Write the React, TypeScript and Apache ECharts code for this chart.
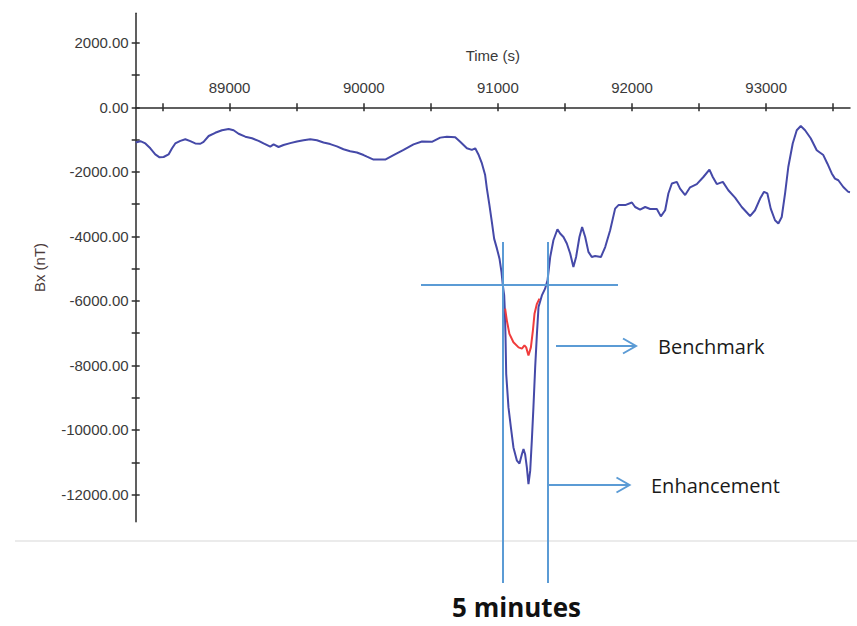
import React, { useEffect, useRef } from "react";
import * as echarts from "echarts";

// Time (s) of the Bx trace (enhancement)
const times = [88300,88335,88372,88409,88446,88478,88508,88545,88571,88595,88633,88670,88707,88744,88782,88806,88844,88893,88943,88993,89030,89067,89117,89167,89216,89253,89303,89328,89365,89402,89452,89502,89551,89601,89651,89700,89750,89800,89849,89899,89949,89999,90024,90073,90160,90222,90297,90371,90434,90508,90570,90620,90682,90719,90769,90806,90831,90855,90881,90905,90918,90937,90955,90972,90993,91012,91027,91037,91047,91052,91057,91062,91079,91097,91116,91142,91161,91179,91191,91203,91216,91228,91241,91253,91265,91278,91291,91303,91328,91352,91370,91390,91414,91444,91464,91489,91514,91539,91563,91583,91608,91628,91651,91675,91700,91725,91768,91800,91837,91874,91899,91949,91999,92023,92060,92098,92135,92185,92215,92247,92271,92297,92334,92358,92396,92433,92483,92532,92577,92602,92632,92677,92718,92768,92818,92880,92917,92955,92984,93009,93034,93066,93091,93116,93141,93165,93198,93228,93258,93290,93332,93377,93426,93456,93489,93513,93538,93575,93612,93625];
// Bx (nT)
const bx = [-1090,-1050,-1120,-1270,-1460,-1550,-1540,-1460,-1270,-1120,-1040,-990,-1050,-1120,-1130,-1070,-890,-790,-710,-670,-710,-820,-910,-960,-1040,-1120,-1220,-1150,-1230,-1170,-1110,-1060,-1020,-990,-1020,-1090,-1140,-1210,-1300,-1360,-1400,-1480,-1530,-1620,-1620,-1480,-1320,-1150,-1060,-1070,-940,-910,-930,-1070,-1270,-1320,-1270,-1460,-1740,-2100,-2520,-3030,-3550,-4070,-4380,-4690,-5110,-5520,-5830,-6300,-7120,-8260,-9300,-9920,-10540,-10950,-11040,-10750,-10590,-10750,-11160,-11680,-11260,-10330,-9300,-8060,-7020,-6190,-5830,-5620,-5360,-4640,-4120,-3780,-3910,-4020,-4220,-4530,-4950,-4640,-4020,-3710,-4020,-4480,-4640,-4610,-4640,-4330,-3810,-3140,-3030,-3030,-2950,-3090,-3170,-3090,-3150,-3150,-3380,-3190,-2670,-2360,-2310,-2520,-2720,-2480,-2380,-2160,-1930,-2160,-2380,-2310,-2570,-2800,-3090,-3370,-3190,-2830,-2620,-2670,-3140,-3500,-3600,-3400,-2670,-1850,-1120,-710,-580,-710,-960,-1330,-1480,-1740,-2050,-2210,-2260,-2470,-2620,-2630];

// Benchmark segment
const benchTimes = [91054,91067,91086,91116,91154,91179,91198,91211,91228,91246,91261,91273,91291,91310];
const benchBx = [-6240,-6610,-7020,-7280,-7440,-7480,-7380,-7440,-7690,-7440,-6920,-6400,-6090,-5930];

// Axis ticks / labels
const xTickValues = [88500,89000,89500,90000,90500,91000,91500,92000,92500,93000,93500];
const xLabelValues = [89000,90000,91000,92000,93000];
const yTickValues = [-12000,-11000,-10000,-9000,-8000,-7000,-6000,-5000,-4000,-3000,-2000,-1000,0,1000,2000];
const yLabelValues = [-12000,-10000,-8000,-6000,-4000,-2000,0,2000];

const X_MIN = 88300, X_MAX = 93625, Y_MIN = -12842, Y_MAX = 2913;
const GRID_TOP = 13.3, GRID_BOTTOM_Y = 521.7, ZERO_Y = 107.3;

const AXIS_COLOR = "#2b2b2b";
const LABEL_FONT = "'Liberation Sans', Arial, sans-serif";
const ANN = "#5b9bd5";

export default function App() {
  const ref = useRef<HTMLDivElement>(null);
  useEffect(() => {
    if (!ref.current) return;
    const chart = echarts.init(ref.current, null, { renderer: "svg" });
    const tickStyle = { color: AXIS_COLOR, width: 1.5 };
    const option: any = {
      animation: false,
      backgroundColor: "#ffffff",
      grid: { left: 135.7, right: 7, top: GRID_TOP, bottom: 626 - GRID_BOTTOM_Y, containLabel: false, outerBoundsMode: "none" },
      xAxis: [
        {
          type: "value", min: X_MIN, max: X_MAX, position: "top", offset: -(ZERO_Y - GRID_TOP),
          axisLine: { onZero: false, lineStyle: { color: AXIS_COLOR, width: 1.5 } },
          axisTick: { show: true, length: 4, customValues: xTickValues, lineStyle: tickStyle },
          axisLabel: { customValues: xLabelValues, margin: 12, fontSize: 15, fontFamily: LABEL_FONT, color: "#3a3a3a", formatter: (v: number) => String(v) },
          splitLine: { show: false },
          name: "Time (s)", nameLocation: "middle", nameGap: 44,
          nameTextStyle: { fontSize: 15, fontFamily: LABEL_FONT, color: "#3a3a3a" },
        },
        {
          type: "value", min: X_MIN, max: X_MAX, position: "bottom", offset: -(GRID_BOTTOM_Y - ZERO_Y),
          axisLine: { onZero: false, show: false },
          axisTick: { show: true, length: 4, customValues: xTickValues, lineStyle: tickStyle },
          axisLabel: { show: false },
          splitLine: { show: false },
        },
      ],
      yAxis: [
        {
          type: "value", min: Y_MIN, max: Y_MAX, position: "left",
          axisLine: { show: true, onZero: false, lineStyle: { color: AXIS_COLOR, width: 1.5 } },
          axisTick: { show: true, length: 4, customValues: yTickValues, lineStyle: tickStyle },
          axisLabel: { customValues: yLabelValues, margin: 7, fontSize: 15, fontFamily: LABEL_FONT, color: "#3a3a3a", formatter: (v: number) => v.toFixed(2) },
          splitLine: { show: false },
          name: "Bx (nT)", nameLocation: "middle", nameGap: 89,
          nameTextStyle: { fontSize: 15, fontFamily: LABEL_FONT, color: "#4a3a3a" },
        },
        {
          type: "value", min: Y_MIN, max: Y_MAX, position: "right", offset: -714.3,
          axisLine: { show: false, onZero: false },
          axisTick: { show: true, length: 4, customValues: yTickValues, lineStyle: tickStyle },
          axisLabel: { show: false },
          splitLine: { show: false },
        },
      ],
      series: [
        {
          type: "line", name: "Enhancement", xAxisIndex: 0, yAxisIndex: 0,
          data: times.map((t, i) => [t, bx[i]]),
          showSymbol: false, symbol: "none", smooth: false, clip: false,
          lineStyle: { color: "#4549a8", width: 2 },
          z: 3,
        },
        {
          type: "line", name: "Benchmark", xAxisIndex: 0, yAxisIndex: 0,
          data: benchTimes.map((t, i) => [t, benchBx[i]]),
          showSymbol: false, symbol: "none", clip: false,
          lineStyle: { color: "#f03c3c", width: 2 },
          z: 4,
        },
      ],
      graphic: [
        { type: "line", shape: { x1: 15, y1: 541, x2: 857, y2: 541 }, style: { stroke: "#e4e4e4", lineWidth: 1.5 }, z: 1 },
        { type: "line", shape: { x1: 421, y1: 285, x2: 618, y2: 285 }, style: { stroke: ANN, lineWidth: 2 }, z: 10 },
        { type: "line", shape: { x1: 503, y1: 242, x2: 503, y2: 583 }, style: { stroke: ANN, lineWidth: 2 }, z: 10 },
        { type: "line", shape: { x1: 548, y1: 242, x2: 548, y2: 583 }, style: { stroke: ANN, lineWidth: 2 }, z: 10 },
        { type: "line", shape: { x1: 556, y1: 346, x2: 636, y2: 346 }, style: { stroke: ANN, lineWidth: 2 }, z: 10 },
        { type: "polyline", shape: { points: [[623, 338.5], [636, 346], [623, 353.5]] }, style: { stroke: ANN, lineWidth: 2, fill: null }, z: 10 },
        { type: "line", shape: { x1: 548, y1: 485, x2: 629, y2: 485 }, style: { stroke: ANN, lineWidth: 2 }, z: 10 },
        { type: "polyline", shape: { points: [[616.5, 477.5], [629.5, 485], [616.5, 492.5]] }, style: { stroke: ANN, lineWidth: 2, fill: null }, z: 10 },
        { type: "text", x: 658, y: 346, style: { text: "Benchmark", font: "20px 'Open Sans', sans-serif", fill: "#1a1a1a", textVerticalAlign: "middle", verticalAlign: "middle" }, z: 10 },
        { type: "text", x: 651, y: 485, style: { text: "Enhancement", font: "20px 'Open Sans', sans-serif", fill: "#1a1a1a", textVerticalAlign: "middle", verticalAlign: "middle" }, z: 10 },
        { type: "text", x: 516.5, y: 607, style: { text: "5 minutes", font: "bold 26px 'Open Sans', sans-serif", fill: "#111111", textAlign: "center", align: "center", textVerticalAlign: "middle", verticalAlign: "middle" }, z: 10 },
      ],
    };
    chart.setOption(option);
    return () => chart.dispose();
  }, []);
  return <div ref={ref} style={{ position: "absolute", left: 0, top: 0, width: 857, height: 626 }} />;
}
